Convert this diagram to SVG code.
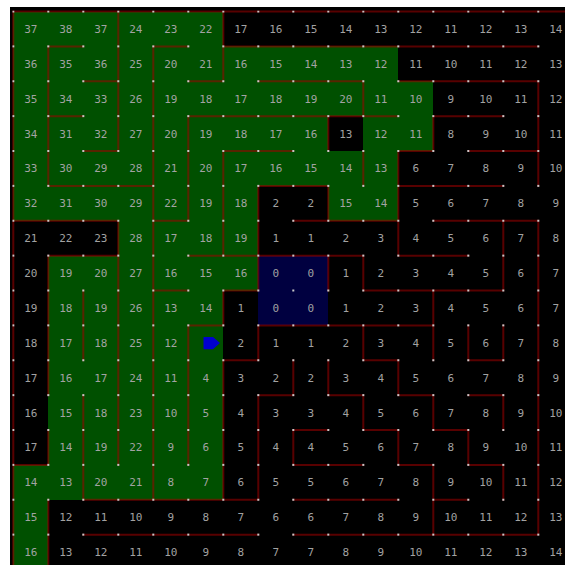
<svg xmlns="http://www.w3.org/2000/svg" width="565" height="565" viewBox="0 0 565 565">
<defs>
<pattern id="posts" x="12.3" y="10.5" width="35" height="34.875" patternUnits="userSpaceOnUse"><rect width="2" height="2" fill="#c8c8c8"/></pattern>
</defs>
<style>
text{font-family:"DejaVu Sans Mono","Liberation Mono",monospace;font-size:11px;fill:#a4a4a4;text-anchor:middle}
.w{fill:none;stroke:#a00000;stroke-opacity:.55;stroke-width:2;vector-effect:non-scaling-stroke;stroke-linecap:square}
#labels{opacity:.99}
</style>
<rect width="565" height="565" fill="#fff"/>
<rect x="10" y="7" width="555" height="558" fill="#000"/>
<g id="maze" transform="translate(13.3 11.5) scale(35 34.875)">
<path id="visited" fill="#005000" shape-rendering="crispEdges" d="M0 0h6v1h-6z M0 1h11v1h-11z M0 2h12v1h-12z M0 3h9v1h-9z M10 3h2v1h-2z M0 4h11v1h-11z M0 5h7v1h-7z M9 5h2v1h-2z M3 6h4v1h-4z M1 7h6v1h-6z M1 8h5v5h-5z M0 13h6v1h-6z M0 14h1v2h-1z"/>
<path id="goal" fill="#000040" shape-rendering="crispEdges" d="M7 7h2v2h-2z"/>
<path id="walls" class="w" d="M0 0H16 M1 1h1 M4 1h1 M6 1H15 M2 2h1 M5 2h1 M7 2H10 M11 2H15 M1 3h1 M5 3H11 M12 3H14 M2 4h1 M6 4H8 M11 4h1 M13 4H15 M1 5H4 M7 5H9 M11 5H14 M0 6H3 M4 6h1 M8 6H11 M12 6H15 M1 7H3 M5 7H10 M11 7H13 M4 8h1 M6 8h1 M10 8H14 M5 9h1 M7 9H12 M6 10h1 M10 10h1 M13 10h1 M7 11h1 M9 11h1 M11 11h1 M13 11h1 M8 12h1 M10 12h1 M12 12h1 M0 13h1 M8 13H10 M11 13h1 M13 13h1 M2 14H7 M8 14H11 M12 14h1 M2 15H7 M8 15H15 M0 0V16 M1 1V5 M1 7V11 M1 12v1 M1 14V16 M2 8V10 M2 11V14 M3 0V4 M3 6V13 M4 1V14 M5 3V6 M5 9V13 M6 0V2 M6 4V7 M6 8v1 M6 10V14 M7 5V8 M7 9v1 M7 11V14 M8 10v1 M8 12v1 M9 3v1 M9 5v1 M9 7v1 M9 10v1 M10 2v1 M10 4v1 M10 7v1 M10 9v1 M10 11v1 M11 4V7 M11 10v1 M11 12v1 M12 3v1 M12 8V10 M12 11v1 M12 13V15 M13 9v1 M13 12v1 M14 6V8 M14 9v1 M14 11v1 M14 13v1 M15 2V5 M15 6V15"/>
</g>
<rect id="post-grid" x="12.3" y="10.5" width="552.7" height="554.5" fill="url(#posts)"/>
<g id="labels">
<text y="32.9"><tspan x="30.8">37</tspan><tspan x="65.8">38</tspan><tspan x="100.8">37</tspan><tspan x="135.8">24</tspan><tspan x="170.8">23</tspan><tspan x="205.8">22</tspan><tspan x="240.8">17</tspan><tspan x="275.8">16</tspan><tspan x="310.8">15</tspan><tspan x="345.8">14</tspan><tspan x="380.8">13</tspan><tspan x="415.8">12</tspan><tspan x="450.8">11</tspan><tspan x="485.8">12</tspan><tspan x="520.8">13</tspan><tspan x="555.8">14</tspan></text>
<text y="67.8"><tspan x="30.8">36</tspan><tspan x="65.8">35</tspan><tspan x="100.8">36</tspan><tspan x="135.8">25</tspan><tspan x="170.8">20</tspan><tspan x="205.8">21</tspan><tspan x="240.8">16</tspan><tspan x="275.8">15</tspan><tspan x="310.8">14</tspan><tspan x="345.8">13</tspan><tspan x="380.8">12</tspan><tspan x="415.8">11</tspan><tspan x="450.8">10</tspan><tspan x="485.8">11</tspan><tspan x="520.8">12</tspan><tspan x="555.8">13</tspan></text>
<text y="102.7"><tspan x="30.8">35</tspan><tspan x="65.8">34</tspan><tspan x="100.8">33</tspan><tspan x="135.8">26</tspan><tspan x="170.8">19</tspan><tspan x="205.8">18</tspan><tspan x="240.8">17</tspan><tspan x="275.8">18</tspan><tspan x="310.8">19</tspan><tspan x="345.8">20</tspan><tspan x="380.8">11</tspan><tspan x="415.8">10</tspan><tspan x="450.8">9</tspan><tspan x="485.8">10</tspan><tspan x="520.8">11</tspan><tspan x="555.8">12</tspan></text>
<text y="137.5"><tspan x="30.8">34</tspan><tspan x="65.8">31</tspan><tspan x="100.8">32</tspan><tspan x="135.8">27</tspan><tspan x="170.8">20</tspan><tspan x="205.8">19</tspan><tspan x="240.8">18</tspan><tspan x="275.8">17</tspan><tspan x="310.8">16</tspan><tspan x="345.8">13</tspan><tspan x="380.8">12</tspan><tspan x="415.8">11</tspan><tspan x="450.8">8</tspan><tspan x="485.8">9</tspan><tspan x="520.8">10</tspan><tspan x="555.8">11</tspan></text>
<text y="172.4"><tspan x="30.8">33</tspan><tspan x="65.8">30</tspan><tspan x="100.8">29</tspan><tspan x="135.8">28</tspan><tspan x="170.8">21</tspan><tspan x="205.8">20</tspan><tspan x="240.8">17</tspan><tspan x="275.8">16</tspan><tspan x="310.8">15</tspan><tspan x="345.8">14</tspan><tspan x="380.8">13</tspan><tspan x="415.8">6</tspan><tspan x="450.8">7</tspan><tspan x="485.8">8</tspan><tspan x="520.8">9</tspan><tspan x="555.8">10</tspan></text>
<text y="207.3"><tspan x="30.8">32</tspan><tspan x="65.8">31</tspan><tspan x="100.8">30</tspan><tspan x="135.8">29</tspan><tspan x="170.8">22</tspan><tspan x="205.8">19</tspan><tspan x="240.8">18</tspan><tspan x="275.8">2</tspan><tspan x="310.8">2</tspan><tspan x="345.8">15</tspan><tspan x="380.8">14</tspan><tspan x="415.8">5</tspan><tspan x="450.8">6</tspan><tspan x="485.8">7</tspan><tspan x="520.8">8</tspan><tspan x="555.8">9</tspan></text>
<text y="242.2"><tspan x="30.8">21</tspan><tspan x="65.8">22</tspan><tspan x="100.8">23</tspan><tspan x="135.8">28</tspan><tspan x="170.8">17</tspan><tspan x="205.8">18</tspan><tspan x="240.8">19</tspan><tspan x="275.8">1</tspan><tspan x="310.8">1</tspan><tspan x="345.8">2</tspan><tspan x="380.8">3</tspan><tspan x="415.8">4</tspan><tspan x="450.8">5</tspan><tspan x="485.8">6</tspan><tspan x="520.8">7</tspan><tspan x="555.8">8</tspan></text>
<text y="277.0"><tspan x="30.8">20</tspan><tspan x="65.8">19</tspan><tspan x="100.8">20</tspan><tspan x="135.8">27</tspan><tspan x="170.8">16</tspan><tspan x="205.8">15</tspan><tspan x="240.8">16</tspan><tspan x="275.8">0</tspan><tspan x="310.8">0</tspan><tspan x="345.8">1</tspan><tspan x="380.8">2</tspan><tspan x="415.8">3</tspan><tspan x="450.8">4</tspan><tspan x="485.8">5</tspan><tspan x="520.8">6</tspan><tspan x="555.8">7</tspan></text>
<text y="311.9"><tspan x="30.8">19</tspan><tspan x="65.8">18</tspan><tspan x="100.8">19</tspan><tspan x="135.8">26</tspan><tspan x="170.8">13</tspan><tspan x="205.8">14</tspan><tspan x="240.8">1</tspan><tspan x="275.8">0</tspan><tspan x="310.8">0</tspan><tspan x="345.8">1</tspan><tspan x="380.8">2</tspan><tspan x="415.8">3</tspan><tspan x="450.8">4</tspan><tspan x="485.8">5</tspan><tspan x="520.8">6</tspan><tspan x="555.8">7</tspan></text>
<text y="346.8"><tspan x="30.8">18</tspan><tspan x="65.8">17</tspan><tspan x="100.8">18</tspan><tspan x="135.8">25</tspan><tspan x="170.8">12</tspan><tspan x="240.8">2</tspan><tspan x="275.8">1</tspan><tspan x="310.8">1</tspan><tspan x="345.8">2</tspan><tspan x="380.8">3</tspan><tspan x="415.8">4</tspan><tspan x="450.8">5</tspan><tspan x="485.8">6</tspan><tspan x="520.8">7</tspan><tspan x="555.8">8</tspan></text>
<text y="381.7"><tspan x="30.8">17</tspan><tspan x="65.8">16</tspan><tspan x="100.8">17</tspan><tspan x="135.8">24</tspan><tspan x="170.8">11</tspan><tspan x="205.8">4</tspan><tspan x="240.8">3</tspan><tspan x="275.8">2</tspan><tspan x="310.8">2</tspan><tspan x="345.8">3</tspan><tspan x="380.8">4</tspan><tspan x="415.8">5</tspan><tspan x="450.8">6</tspan><tspan x="485.8">7</tspan><tspan x="520.8">8</tspan><tspan x="555.8">9</tspan></text>
<text y="416.5"><tspan x="30.8">16</tspan><tspan x="65.8">15</tspan><tspan x="100.8">18</tspan><tspan x="135.8">23</tspan><tspan x="170.8">10</tspan><tspan x="205.8">5</tspan><tspan x="240.8">4</tspan><tspan x="275.8">3</tspan><tspan x="310.8">3</tspan><tspan x="345.8">4</tspan><tspan x="380.8">5</tspan><tspan x="415.8">6</tspan><tspan x="450.8">7</tspan><tspan x="485.8">8</tspan><tspan x="520.8">9</tspan><tspan x="555.8">10</tspan></text>
<text y="451.4"><tspan x="30.8">17</tspan><tspan x="65.8">14</tspan><tspan x="100.8">19</tspan><tspan x="135.8">22</tspan><tspan x="170.8">9</tspan><tspan x="205.8">6</tspan><tspan x="240.8">5</tspan><tspan x="275.8">4</tspan><tspan x="310.8">4</tspan><tspan x="345.8">5</tspan><tspan x="380.8">6</tspan><tspan x="415.8">7</tspan><tspan x="450.8">8</tspan><tspan x="485.8">9</tspan><tspan x="520.8">10</tspan><tspan x="555.8">11</tspan></text>
<text y="486.3"><tspan x="30.8">14</tspan><tspan x="65.8">13</tspan><tspan x="100.8">20</tspan><tspan x="135.8">21</tspan><tspan x="170.8">8</tspan><tspan x="205.8">7</tspan><tspan x="240.8">6</tspan><tspan x="275.8">5</tspan><tspan x="310.8">5</tspan><tspan x="345.8">6</tspan><tspan x="380.8">7</tspan><tspan x="415.8">8</tspan><tspan x="450.8">9</tspan><tspan x="485.8">10</tspan><tspan x="520.8">11</tspan><tspan x="555.8">12</tspan></text>
<text y="521.2"><tspan x="30.8">15</tspan><tspan x="65.8">12</tspan><tspan x="100.8">11</tspan><tspan x="135.8">10</tspan><tspan x="170.8">9</tspan><tspan x="205.8">8</tspan><tspan x="240.8">7</tspan><tspan x="275.8">6</tspan><tspan x="310.8">6</tspan><tspan x="345.8">7</tspan><tspan x="380.8">8</tspan><tspan x="415.8">9</tspan><tspan x="450.8">10</tspan><tspan x="485.8">11</tspan><tspan x="520.8">12</tspan><tspan x="555.8">13</tspan></text>
<text y="556.0"><tspan x="30.8">16</tspan><tspan x="65.8">13</tspan><tspan x="100.8">12</tspan><tspan x="135.8">11</tspan><tspan x="170.8">10</tspan><tspan x="205.8">9</tspan><tspan x="240.8">8</tspan><tspan x="275.8">7</tspan><tspan x="310.8">7</tspan><tspan x="345.8">8</tspan><tspan x="380.8">9</tspan><tspan x="415.8">10</tspan><tspan x="450.8">11</tspan><tspan x="485.8">12</tspan><tspan x="520.8">13</tspan><tspan x="555.8">14</tspan></text>
</g>
<g id="robot">
<polygon points="203.5,337 213,337 220,343 213,349.3 203.5,349.3" fill="#0000d0"/>
</g>
</svg>
